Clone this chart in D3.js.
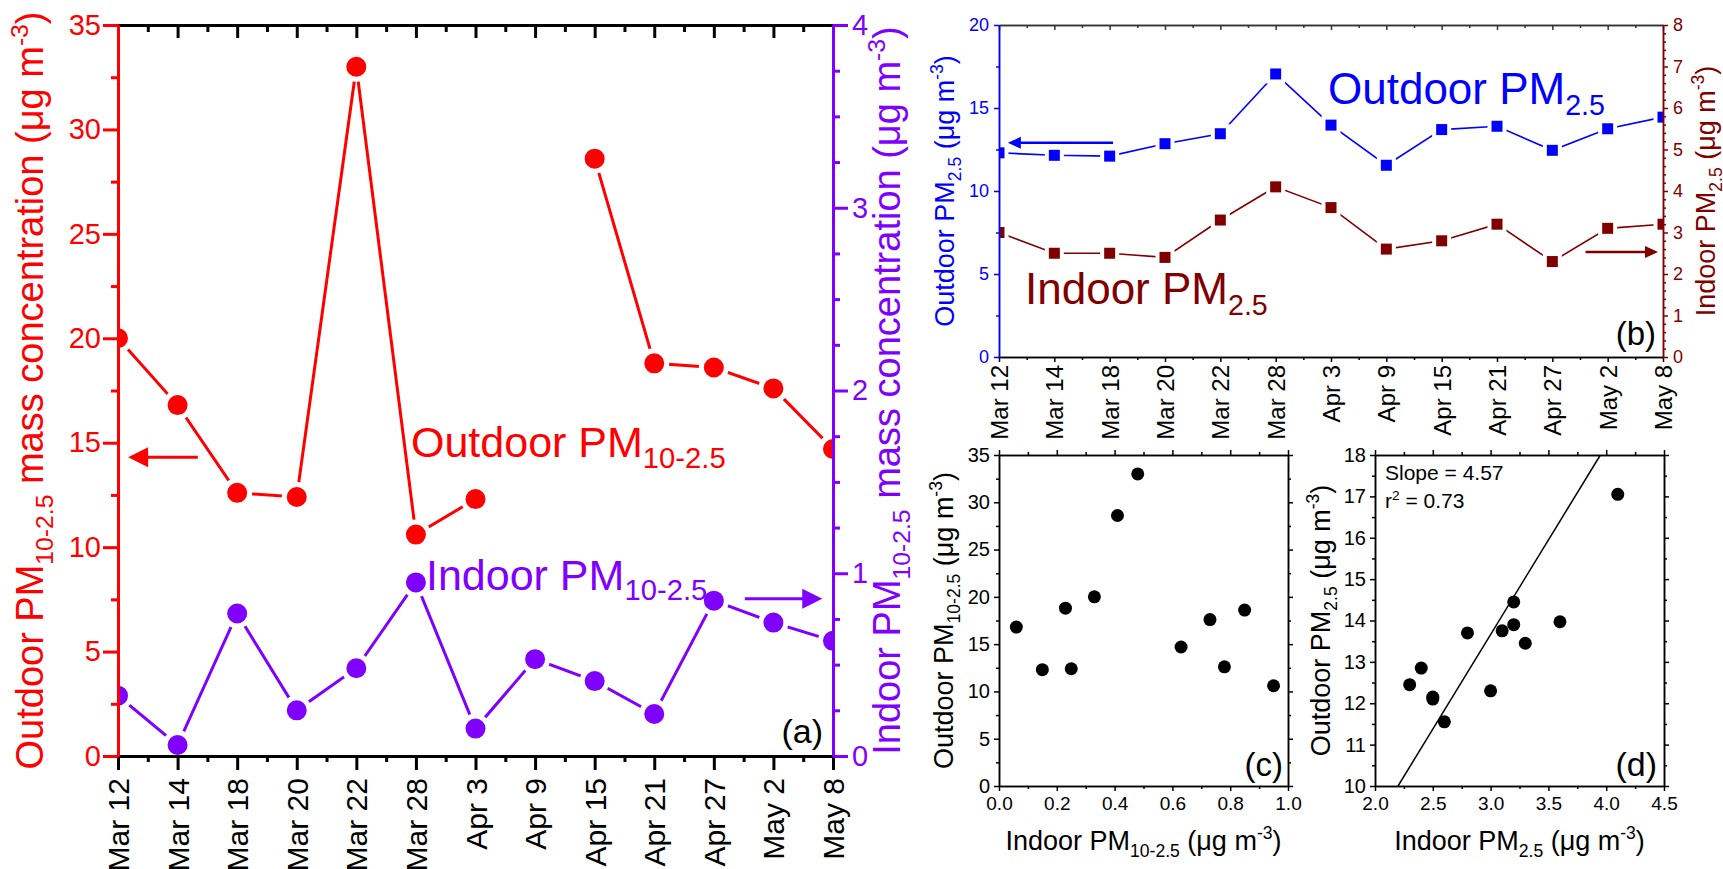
<!DOCTYPE html>
<html><head><meta charset="utf-8">
<script src="https://cdn.jsdelivr.net/npm/d3@7"></script>
<style>
body{margin:0;background:#fff;}
svg text{font-family:"Liberation Sans",Arial,Helvetica,sans-serif;}
</style></head><body>
<svg id="chart" width="1723" height="869" font-family="Liberation Sans, Arial, sans-serif"></svg>
<script>
// ---------------- DATA ----------------
const dates = ["Mar 12","Mar 14","Mar 18","Mar 20","Mar 22","Mar 28","Apr 3","Apr 9","Apr 15","Apr 21","Apr 27","May 2","May 8"];
const outdoorPM10_25 = [20.0,16.8,12.6,12.4,33.0,10.6,12.3,null,28.6,18.8,18.6,17.6,14.7];
const indoorPM10_25  = [0.33,0.06,0.78,0.25,0.48,0.95,0.15,0.53,0.41,0.23,0.85,0.73,0.63];
const outdoorPM25    = [12.3,12.15,12.1,12.85,13.45,17.05,13.97,11.55,13.7,13.9,12.45,13.75,14.45];
const indoorPM25     = [3.0,2.5,2.5,2.4,3.3,4.1,3.6,2.6,2.8,3.2,2.3,3.1,3.2];
const fitSlope = 4.57, fitIntercept = -0.05, fitR2 = "0.73";
const aLeftTicks = [0,5,10,15,20,25,30,35];
const aRightTicks = [0,1,2,3,4];
const bLeftTicks = [0,5,10,15,20];
const bRightTicks = [0,1,2,3,4,5,6,7,8];
const cXTicks = [0,0.2,0.4,0.6,0.8,1.0];
const cYTicks = [0,5,10,15,20,25,30,35];
const dXTicks = [2.0,2.5,3.0,3.5,4.0,4.5];
const dYTicks = [10,11,12,13,14,15,16,17,18];

// ---------------- HELPERS ----------------
const RED="#ff0000", PURPLE="#7f00ff", BLUE="#0000ff", DRED="#800000", BLACK="#000";
const svg = d3.select("#chart");
const defs = svg.append("defs");
const intFmt = d3.format("d");

function rich(sel, parts, fs, subRatio=0.65) {
  let shift = 0;
  parts.forEach(([t,k]) => {
    const target = k==="sub" ? 0.25*fs : k==="sup" ? -0.4*fs : 0;
    const ts = sel.append("tspan").text(t).attr("dy", target - shift);
    if (k !== "n") ts.attr("font-size", fs*subRatio);
    shift = target;
  });
  return sel;
}
function label(x, y, parts, fs, color, opts={}) {
  const t = svg.append("text").attr("x", x).attr("y", y).attr("font-size", fs)
    .attr("fill", color).attr("text-anchor", opts.anchor||"start");
  if (opts.rotate) t.attr("transform", `rotate(-90,${x},${y})`);
  return rich(t, parts, fs, opts.subRatio||0.65);
}
function styleAxis(g, color, w, fs, tcolor) {
  g.attr("font-family", null).attr("font-size", fs);
  g.select(".domain").attr("stroke", color).attr("stroke-width", w);
  g.selectAll(".tick line").attr("stroke", color).attr("stroke-width", w);
  g.selectAll(".tick text").attr("fill", tcolor||color);
  return g;
}
function clip(id, P) {
  defs.append("clipPath").attr("id", id).append("rect")
    .attr("x", P.l).attr("y", P.t).attr("width", P.r-P.l).attr("height", P.b-P.t);
}
function arrow(x1, x2, y, color, w, hl, hh) {
  const dir = Math.sign(x2 - x1);
  svg.append("line").attr("x1", x1).attr("x2", x2 - dir*hl*0.8).attr("y1", y).attr("y2", y)
    .attr("stroke", color).attr("stroke-width", w);
  svg.append("path").attr("d", `M${x2},${y}L${x2-dir*hl},${y-hh}L${x2-dir*hl},${y+hh}Z`).attr("fill", color);
}
const unitTail = () => [[" (\u03BCg m","n"],["-3","sup"],[")","n"]];

// ---------------- PANEL A ----------------
const A = {l:118, r:833, t:25, b:756};
clip("clipA", A);
const xa = d3.scalePoint().domain(dates).range([A.l, A.r]);
const xaI = d3.scaleLinear().domain([0, dates.length-1]).range([A.l, A.r]);
const yaL = d3.scaleLinear().domain([0,35]).range([A.b, A.t]);
const yaR = d3.scaleLinear().domain([0,4]).range([A.b, A.t]);

const gA = svg.append("g").attr("clip-path","url(#clipA)");
function series(g, x, y, vals, color, lw) {
  const line = d3.line().defined(d => d != null).x((d,i)=>x(dates[i])).y(d=>y(d));
  g.append("path").datum(vals).attr("d", line).attr("fill","none").attr("stroke", color).attr("stroke-width", lw);
}
series(gA, xa, yaL, outdoorPM10_25, RED, 3);
series(gA, xa, yaR, indoorPM10_25, PURPLE, 3);
function circles(g, x, y, vals, color) {
  g.selectAll(null).data(vals.map((v,i)=>({v,d:dates[i]})).filter(o=>o.v!=null)).enter()
   .append("circle").attr("cx", o=>x(o.d)).attr("cy", o=>y(o.v)).attr("r", 12.5)
   .attr("fill", color).attr("stroke", "#fff").attr("stroke-width", 5);
}
circles(gA, xa, yaL, outdoorPM10_25, RED);
circles(gA, xa, yaR, indoorPM10_25, PURPLE);

// axes A
styleAxis(svg.append("g").attr("transform",`translate(0,${A.t})`)
  .call(d3.axisTop(xa).tickSize(-13).tickSizeOuter(0).tickFormat("")), BLACK, 3, 10);
styleAxis(svg.append("g").attr("transform",`translate(0,${A.t})`)
  .call(d3.axisTop(xaI).tickValues(d3.range(0.5, dates.length-1, 1)).tickSize(-7).tickSizeOuter(0).tickFormat("")), BLACK, 3, 10);
const axAB = svg.append("g").attr("transform",`translate(0,${A.b})`)
  .call(d3.axisBottom(xa).tickSize(14).tickSizeOuter(0));
styleAxis(axAB, BLACK, 3, 30);
axAB.selectAll(".tick text").attr("transform","rotate(-90)").attr("x",-22).attr("y",0).attr("dy","0.35em").attr("text-anchor","end");
styleAxis(svg.append("g").attr("transform",`translate(0,${A.b})`)
  .call(d3.axisBottom(xaI).tickValues(d3.range(0.5, dates.length-1, 1)).tickSize(6).tickSizeOuter(0).tickFormat("")), BLACK, 3, 10);
styleAxis(svg.append("g").attr("transform",`translate(${A.l},0)`)
  .call(d3.axisLeft(yaL).tickValues(d3.range(2.5,35,5)).tickSize(7).tickSizeOuter(0).tickFormat("")), RED, 3, 10);
styleAxis(svg.append("g").attr("transform",`translate(${A.l},0)`)
  .call(d3.axisLeft(yaL).tickValues(aLeftTicks).tickSize(15).tickPadding(2).tickSizeOuter(0).tickFormat(intFmt)), RED, 3, 29);
styleAxis(svg.append("g").attr("transform",`translate(${A.r},0)`)
  .call(d3.axisRight(yaR).tickValues(d3.range(0.25,4,0.25).filter(v=>Math.abs(v-Math.round(v))>1e-6)).tickSize(7).tickSizeOuter(0).tickFormat("")), PURPLE, 3, 10);
styleAxis(svg.append("g").attr("transform",`translate(${A.r},0)`)
  .call(d3.axisRight(yaR).tickValues(aRightTicks).tickSize(15).tickPadding(4).tickSizeOuter(0).tickFormat(intFmt)), PURPLE, 3, 29);

// labels A
label(411, yaL(14.3), [["Outdoor PM","n"],["10-2.5","sub"]], 43, RED, {subRatio:0.68});
label(426, yaR(0.91), [["Indoor PM","n"],["10-2.5","sub"]], 43, PURPLE, {subRatio:0.68});
arrow(xaI(1.34), xaI(0.17), yaL(14.3), RED, 3, 20, 10);
arrow(xaI(10.52), xaI(11.82), yaR(0.86), PURPLE, 3, 20, 10);
label(823, 743, [["(a)","n"]], 34, BLACK, {anchor:"end"});
label(43, (A.t+A.b)/2, [["Outdoor PM","n"],["10-2.5","sub"],[" mass concentration (\u03BCg m","n"],["-3","sup"],[")","n"]], 38, RED, {anchor:"middle", rotate:true});
label(900, (A.t+A.b)/2, [["Indoor PM","n"],["10-2.5","sub"],[" mass concentration (\u03BCg m","n"],["-3","sup"],[")","n"]], 38, PURPLE, {anchor:"middle", rotate:true});

// ---------------- PANEL B ----------------
const B = {l:999, r:1663, t:25, b:357};
clip("clipB", B);
const xb = d3.scalePoint().domain(dates).range([B.l, B.r]);
const xbI = d3.scaleLinear().domain([0, dates.length-1]).range([B.l, B.r]);
const ybL = d3.scaleLinear().domain([0,20]).range([B.b, B.t]);
const ybR = d3.scaleLinear().domain([0,8]).range([B.b, B.t]);
const gB = svg.append("g").attr("clip-path","url(#clipB)");
series(gB, xb, ybL, outdoorPM25, BLUE, 1.6);
series(gB, xb, ybR, indoorPM25, DRED, 1.6);
function squares(g, x, y, vals, color) {
  const s = 15;
  g.selectAll(null).data(vals.map((v,i)=>({v,d:dates[i]}))).enter()
   .append("rect").attr("x", o=>x(o.d)-s/2).attr("y", o=>y(o.v)-s/2).attr("width", s).attr("height", s)
   .attr("fill", color).attr("stroke","#fff").attr("stroke-width", 4);
}
squares(gB, xb, ybL, outdoorPM25, BLUE);
squares(gB, xb, ybR, indoorPM25, DRED);

styleAxis(svg.append("g").attr("transform",`translate(0,${B.t})`)
  .call(d3.axisTop(xb).tickSize(-5).tickSizeOuter(0).tickFormat("")), "#333", 1.5, 10);
styleAxis(svg.append("g").attr("transform",`translate(0,${B.t})`)
  .call(d3.axisTop(xbI).tickValues(d3.range(0.5, dates.length-1, 1)).tickSize(-3).tickSizeOuter(0).tickFormat("")), "#333", 1.5, 10);
const axBB = svg.append("g").attr("transform",`translate(0,${B.b})`)
  .call(d3.axisBottom(xb).tickSize(5).tickSizeOuter(0));
styleAxis(axBB, BLACK, 1.5, 24);
axBB.selectAll(".tick text").attr("transform","rotate(-90)").attr("x",-8).attr("y",0).attr("dy","0.35em").attr("text-anchor","end");
styleAxis(svg.append("g").attr("transform",`translate(0,${B.b})`)
  .call(d3.axisBottom(xbI).tickValues(d3.range(0.5, dates.length-1, 1)).tickSize(3).tickSizeOuter(0).tickFormat("")), BLACK, 1.5, 10);
styleAxis(svg.append("g").attr("transform",`translate(${B.l},0)`)
  .call(d3.axisLeft(ybL).tickValues(d3.range(2.5,20,5)).tickSize(3).tickSizeOuter(0).tickFormat("")), BLUE, 1.5, 10);
styleAxis(svg.append("g").attr("transform",`translate(${B.l},0)`)
  .call(d3.axisLeft(ybL).tickValues(bLeftTicks).tickSize(5).tickPadding(5).tickSizeOuter(0).tickFormat(intFmt)), BLUE, 1.5, 18);
styleAxis(svg.append("g").attr("transform",`translate(${B.r},0)`)
  .call(d3.axisRight(ybR).tickValues(d3.range(0.2,8,0.2).filter(v=>Math.abs(v-Math.round(v))>1e-6)).tickSize(3).tickSizeOuter(0).tickFormat("")), DRED, 1.5, 10);
styleAxis(svg.append("g").attr("transform",`translate(${B.r},0)`)
  .call(d3.axisRight(ybR).tickValues(bRightTicks).tickSize(5).tickPadding(5).tickSizeOuter(0).tickFormat(intFmt)), DRED, 1.5, 18);

label(1328, 104, [["Outdoor PM","n"],["2.5","sub"]], 44, BLUE);
label(1025, 304, [["Indoor PM","n"],["2.5","sub"]], 44, DRED);
arrow(xbI(2.06), xbI(0.16), ybL(12.9), BLUE, 2.5, 13, 6);
arrow(xbI(10.6), xbI(11.91), ybR(2.53), DRED, 2.5, 13, 6);
label(1656, 345, [["(b)","n"]], 33, BLACK, {anchor:"end"});
label(954, (B.t+B.b)/2, [["Outdoor PM","n"],["2.5","sub"],...unitTail()], 27, BLUE, {anchor:"middle", rotate:true});
label(1715, (B.t+B.b)/2, [["Indoor PM","n"],["2.5","sub"],...unitTail()], 27, DRED, {anchor:"middle", rotate:true});

// ---------------- SCATTER PANELS ----------------
function frame(P, x, y, xt, xminor, yt, yminor, fmtX, fmtY) {
  const s = (g) => styleAxis(g, BLACK, 1.5, 20);
  s(svg.append("g").attr("transform",`translate(0,${P.b})`).call(d3.axisBottom(x).tickValues(xminor).tickSize(3).tickSizeOuter(0).tickFormat("")));
  const bx = s(svg.append("g").attr("transform",`translate(0,${P.b})`).call(d3.axisBottom(x).tickValues(xt).tickSize(5).tickPadding(6).tickSizeOuter(0).tickFormat(fmtX)));
  bx.attr("font-size", 19);
  s(svg.append("g").attr("transform",`translate(0,${P.t})`).call(d3.axisTop(x).tickValues(xminor).tickSize(3).tickSizeOuter(0).tickFormat("")));
  s(svg.append("g").attr("transform",`translate(0,${P.t})`).call(d3.axisTop(x).tickValues(xt).tickSize(5).tickSizeOuter(0).tickFormat("")));
  s(svg.append("g").attr("transform",`translate(${P.l},0)`).call(d3.axisLeft(y).tickValues(yminor).tickSize(3).tickSizeOuter(0).tickFormat("")));
  s(svg.append("g").attr("transform",`translate(${P.l},0)`).call(d3.axisLeft(y).tickValues(yt).tickSize(5).tickPadding(4).tickSizeOuter(0).tickFormat(fmtY)));
  s(svg.append("g").attr("transform",`translate(${P.r},0)`).call(d3.axisRight(y).tickValues(yminor).tickSize(3).tickSizeOuter(0).tickFormat("")));
  s(svg.append("g").attr("transform",`translate(${P.r},0)`).call(d3.axisRight(y).tickValues(yt).tickSize(5).tickSizeOuter(0).tickFormat("")));
}

// Panel C
const C = {l:999, r:1288, t:455, b:786};
const xc = d3.scaleLinear().domain([0,1]).range([C.l, C.r]);
const yc = d3.scaleLinear().domain([0,35]).range([C.b, C.t]);
const ptsC = indoorPM10_25.map((v,i)=>({x:v, y:outdoorPM10_25[i]})).filter(p=>p.y!=null);
svg.append("g").selectAll("circle").data(ptsC).enter().append("circle")
  .attr("cx", p=>xc(p.x)).attr("cy", p=>yc(p.y)).attr("r", 6.5).attr("fill", BLACK);
frame(C, xc, yc, cXTicks, d3.range(0.1,1,0.2), cYTicks, d3.range(2.5,35,5), d3.format(".1f"), intFmt);
label(1283, 776, [["(c)","n"]], 33, BLACK, {anchor:"end"});
label((C.l+C.r)/2, 850, [["Indoor PM","n"],["10-2.5","sub"],...unitTail()], 27, BLACK, {anchor:"middle"});
label(953, (C.t+C.b)/2, [["Outdoor PM","n"],["10-2.5","sub"],...unitTail()], 27, BLACK, {anchor:"middle", rotate:true});

// Panel D
const D = {l:1375, r:1664, t:455, b:786};
const xd = d3.scaleLinear().domain([2,4.5]).range([D.l, D.r]);
const yd = d3.scaleLinear().domain([10,18]).range([D.b, D.t]);
const ptsD = indoorPM25.map((v,i)=>({x:v, y:outdoorPM25[i]}));
svg.append("g").selectAll("circle").data(ptsD).enter().append("circle")
  .attr("cx", p=>xd(p.x)).attr("cy", p=>yd(p.y)).attr("r", 6.5).attr("fill", BLACK);
const fitX0 = (yd.domain()[0]-fitIntercept)/fitSlope, fitX1 = (yd.domain()[1]-fitIntercept)/fitSlope;
svg.append("path").datum([fitX0, fitX1])
  .attr("d", d3.line().x(v=>xd(v)).y(v=>yd(fitSlope*v+fitIntercept)))
  .attr("stroke", BLACK).attr("stroke-width", 1.5).attr("fill","none");
frame(D, xd, yd, dXTicks, d3.range(2.25,4.5,0.5), dYTicks, d3.range(10.5,18,1), d3.format(".1f"), intFmt);
label(1385, 480, [["Slope = "+fitSlope.toFixed(2),"n"]], 21, BLACK);
label(1385, 508, [["r","n"],["2","sup"],[" = "+fitR2,"n"]], 21, BLACK);
label(1657, 776, [["(d)","n"]], 34, BLACK, {anchor:"end"});
label((D.l+D.r)/2, 850, [["Indoor PM","n"],["2.5","sub"],...unitTail()], 27, BLACK, {anchor:"middle"});
label(1330, (D.t+D.b)/2, [["Outdoor PM","n"],["2.5","sub"],...unitTail()], 27, BLACK, {anchor:"middle", rotate:true});
</script>
</body></html>
